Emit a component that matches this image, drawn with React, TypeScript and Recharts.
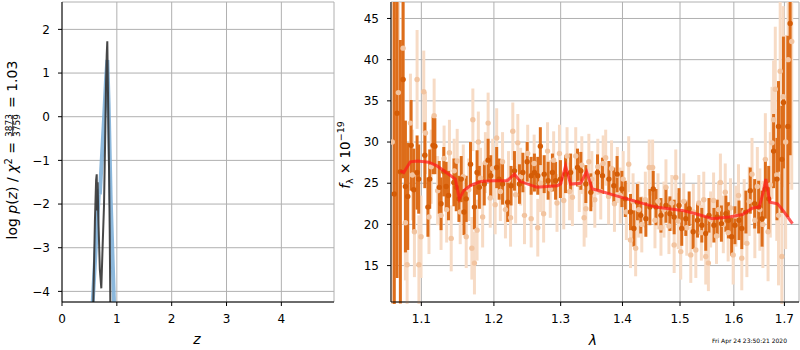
import React from 'react';
import { ComposedChart, Line, Scatter, ErrorBar, XAxis, YAxis, CartesianGrid } from 'recharts';

const FONT = "'DejaVu Sans', sans-serif";

// ---------- left panel: log p(z) ----------
const zBlue = [0.545, 0.56, 0.62, 0.675, 0.69, 0.76, 0.805, 0.827, 0.85, 0.888, 0.948, 0.96];
const logpBlue = [-6, -4.25, -2.9, -1.66, -1.78, -0.2, 0.9, 1.3, 0.3, -1.89, -4.25, -6];
const zDark = [0.555, 0.571, 0.6, 0.622, 0.633, 0.641, 0.65, 0.66, 0.69, 0.717, 0.74, 0.766, 0.79, 0.802, 0.815, 0.826, 0.84, 0.857, 0.87, 0.881, 0.895];
const logpDark = [-6, -4.25, -2.4, -1.45, -1.32, -2.15, -1.5, -2.2, -3.5, -3.93, -3.0, -2.04, -0.3, 0.69, 1.4, 1.73, 0.4, -1.13, -2.6, -4.25, -6];
const zTicks = [0, 1, 2, 3, 4];
const logpTicks = [-4, -3, -2, -1, 0, 1, 2];

// ---------- right panel: spectrum ----------
const lightLam = [1.0623, 1.0701, 1.0762, 1.0792, 1.0814, 1.0857, 1.0883, 1.0909, 1.0944, 1.0968, 1.0996, 1.1032, 1.1055, 1.1101, 1.1131, 1.117, 1.1217, 1.1263, 1.1304, 1.1339, 1.1377, 1.1401, 1.1442, 1.1483, 1.1525, 1.1567, 1.1608, 1.1643, 1.1687, 1.1701, 1.1723, 1.176, 1.1778, 1.1809, 1.1839, 1.1878, 1.1917, 1.1947, 1.1982, 1.2018, 1.204, 1.2093, 1.2125, 1.2167, 1.2212, 1.2242, 1.2275, 1.2317, 1.2349, 1.2391, 1.2448, 1.2496, 1.2548, 1.2593, 1.2648, 1.269, 1.2737, 1.2797, 1.2839, 1.2891, 1.2943, 1.2981, 1.3048, 1.31, 1.314, 1.3184, 1.3237, 1.3293, 1.3334, 1.3371, 1.3398, 1.3447, 1.3495, 1.3543, 1.3592, 1.364, 1.368, 1.3721, 1.3769, 1.3818, 1.3866, 1.3914, 1.3963, 1.4012, 1.4065, 1.4105, 1.4135, 1.4179, 1.4223, 1.4275, 1.4328, 1.4389, 1.4456, 1.4515, 1.4556, 1.4609, 1.4661, 1.4714, 1.4749, 1.4802, 1.4854, 1.4895, 1.4924, 1.4968, 1.5013, 1.5067, 1.5122, 1.5195, 1.5241, 1.5287, 1.5342, 1.5388, 1.5433, 1.547, 1.5519, 1.5561, 1.5616, 1.5671, 1.5708, 1.5744, 1.5799, 1.5836, 1.5891, 1.5936, 1.5987, 1.604, 1.6089, 1.6153, 1.6199, 1.6252, 1.6298, 1.6352, 1.6408, 1.6457, 1.6507, 1.6567, 1.6616, 1.667, 1.6715, 1.6749, 1.6781, 1.6815, 1.6845, 1.688, 1.6914, 1.6948, 1.6974, 1.7025, 1.7076, 1.715];
const lightFlux = [30.0, 36.0, 41.4, 20.2, 15.1, 32.3, 26.0, 19.1, 37.6, 15.1, 18.5, 36.1, 31.1, 20.9, 27.0, 33.2, 24.1, 21.1, 28.0, 21.8, 28.7, 18.3, 26.5, 27.7, 21.5, 25.8, 18.5, 24.2, 17.1, 32.7, 15.3, 19.3, 30.0, 25.6, 20.9, 27.5, 32.3, 23.2, 26.8, 22.4, 30.5, 24.0, 27.6, 21.8, 25.4, 20.8, 31.3, 23.6, 29.9, 25.8, 21.1, 28.6, 20.7, 27.4, 19.6, 25.0, 21.3, 28.9, 24.3, 27.8, 22.6, 28.6, 22.9, 28.3, 24.0, 23.3, 28.3, 25.0, 27.2, 20.8, 21.9, 27.6, 25.5, 23.0, 27.0, 24.0, 27.4, 28.1, 23.4, 26.8, 22.5, 26.0, 23.5, 25.5, 21.5, 27.3, 18.1, 22.8, 17.1, 21.8, 20.0, 23.0, 26.9, 26.9, 20.5, 22.8, 19.6, 21.8, 24.5, 19.8, 22.6, 17.5, 25.7, 20.4, 16.7, 22.8, 19.6, 16.3, 21.5, 16.9, 22.6, 19.0, 23.0, 16.1, 15.3, 20.6, 22.9, 18.6, 21.8, 25.1, 20.0, 23.9, 19.0, 22.0, 16.3, 21.0, 23.5, 15.9, 21.5, 17.7, 22.8, 26.1, 20.5, 24.6, 21.8, 20.0, 27.9, 19.1, 24.8, 29.9, 32.7, 36.4, 26.0, 21.1, 38.6, 16.1, 35.5, 30.0, 40.0, 42.2];
const lightErr = [22, 16, 9, 7, 7, 6, 5.5, 5.5, 6, 6, 5, 5, 5, 4.5, 4.5, 4.5, 4.2, 4.2, 4, 4, 4, 4, 3.9, 3.9, 3.9, 3.9, 3.8, 3.8, 3.8, 3.8, 3.8, 3.7, 3.7, 3.7, 3.7, 3.7, 3.7, 3.6, 3.6, 3.6, 3.6, 3.6, 3.6, 3.5, 3.5, 3.5, 3.5, 3.5, 3.5, 3.5, 3.5, 3.5, 3.5, 3.5, 3.5, 3.5, 3.5, 3.5, 3.5, 3.5, 3.5, 3.5, 3.5, 3.5, 3.5, 3.5, 3.5, 3.5, 3.5, 3.5, 3.5, 3.4, 3.4, 3.4, 3.4, 3.4, 3.4, 3.4, 3.4, 3.4, 3.4, 3.4, 3.4, 3.4, 3.4, 3.4, 3.4, 3.4, 3.4, 3.4, 3.4, 3.4, 3.4, 3.4, 3.4, 3.4, 3.4, 3.4, 3.4, 3.4, 3.4, 3.4, 3.4, 3.4, 3.4, 3.4, 3.4, 3.4, 3.4, 3.4, 3.4, 3.4, 3.4, 3.4, 3.4, 3.4, 3.4, 3.4, 3.4, 3.5, 3.5, 3.5, 3.5, 3.6, 3.6, 3.7, 3.8, 3.9, 4.0, 4.1, 4.2, 4.4, 4.6, 4.8, 5.0, 5.3, 5.6, 6.0, 6.4, 6.8, 7.2, 7.6, 8.0, 8.5, 9, 10, 11, 13, 15, 18];

const darkLam = [1.0649, 1.0684, 1.0727, 1.0762, 1.0792, 1.0822, 1.0866, 1.09, 1.0944, 1.0965, 1.1046, 1.1087, 1.1111, 1.1156, 1.118, 1.1239, 1.1263, 1.13, 1.1332, 1.1364, 1.1438, 1.147, 1.1507, 1.1539, 1.1577, 1.1608, 1.1668, 1.1723, 1.176, 1.1792, 1.1862, 1.1917, 1.1954, 1.204, 1.2075, 1.2125, 1.22, 1.2249, 1.2299, 1.2373, 1.2424, 1.2488, 1.2548, 1.2597, 1.2648, 1.2687, 1.2746, 1.2806, 1.2872, 1.2921, 1.2996, 1.3076, 1.3156, 1.3265, 1.3318, 1.3398, 1.3479, 1.3587, 1.3668, 1.3774, 1.3855, 1.391, 1.399, 1.4047, 1.4135, 1.4193, 1.4252, 1.431, 1.4398, 1.4468, 1.4526, 1.4574, 1.4661, 1.4749, 1.4819, 1.4895, 1.4982, 1.5031, 1.5104, 1.5165, 1.5238, 1.5318, 1.5397, 1.547, 1.553, 1.5622, 1.5684, 1.5763, 1.5848, 1.5896, 1.5958, 1.602, 1.6099, 1.6153, 1.6233, 1.6318, 1.6404, 1.6483, 1.6551, 1.6616, 1.6682, 1.6781, 1.6849, 1.688, 1.6948, 1.698, 1.707, 1.7117];
const darkFlux = [23.7, 33.5, 26.4, 37.6, 24.6, 23.4, 29.6, 24.2, 26.3, 25.5, 28.4, 22.1, 25.5, 29.6, 29.5, 24.5, 22.5, 26.4, 24.6, 23.5, 25.1, 24.5, 23.1, 25.5, 21.5, 23.1, 27.3, 22.1, 26.3, 24.5, 24.9, 27.8, 25.9, 26.9, 25.5, 24.9, 22.7, 24.7, 26.5, 24.9, 26.3, 27.6, 25.9, 26.3, 25.9, 29.5, 26.1, 25.3, 26.3, 25.3, 25.5, 26.1, 26.3, 26.9, 26.5, 24.9, 23.9, 26.3, 25.9, 25.5, 24.7, 26.1, 24.3, 23.1, 21.5, 19.5, 22.7, 21.1, 20.7, 22.1, 24.3, 22.1, 21.1, 22.3, 21.3, 20.9, 22.3, 19.5, 20.7, 21.9, 19.1, 20.5, 19.9, 18.9, 21.1, 19.9, 20.9, 20.1, 21.3, 20.5, 18.5, 19.9, 20.5, 19.5, 21.5, 24.1, 22.5, 22.1, 20.7, 24.3, 23.1, 28.9, 25.5, 31.9, 27.9, 34.8, 31.9, 44.4];
const darkErr = [25, 20, 16, 12, 8, 6.5, 5.5, 5, 4.5, 4.2, 4, 3.6, 3.6, 3.5, 3.4, 3.2, 3.2, 3, 3, 3, 2.9, 2.9, 2.8, 2.8, 2.8, 2.8, 2.7, 2.7, 2.7, 2.6, 2.6, 2.6, 2.5, 2.5, 2.5, 2.5, 2.4, 2.4, 2.4, 2.4, 2.4, 2.4, 2.3, 2.3, 2.3, 2.3, 2.3, 2.3, 2.3, 2.3, 2.3, 2.3, 2.3, 2.3, 2.3, 2.3, 2.3, 2.2, 2.2, 2.2, 2.2, 2.2, 2.2, 2.2, 2.2, 2.2, 2.2, 2.2, 2.2, 2.2, 2.2, 2.2, 2.1, 2.1, 2.1, 2.1, 2.1, 2.1, 2.1, 2.1, 2.1, 2.1, 2.1, 2.1, 2.1, 2.1, 2.1, 2.2, 2.2, 2.2, 2.3, 2.3, 2.4, 2.5, 2.6, 2.8, 3, 3.2, 3.4, 3.6, 4, 4.5, 5, 5.5, 6.5, 8, 11, 16];

const modelLam = [1.0726, 1.077, 1.0856, 1.095, 1.1097, 1.1209, 1.1366, 1.1458, 1.1513, 1.1573, 1.1666, 1.1807, 1.2, 1.2192, 1.2299, 1.2388, 1.2639, 1.2947, 1.3, 1.3076, 1.3155, 1.3314, 1.341, 1.3502, 1.3557, 1.3886, 1.4568, 1.5042, 1.5285, 1.5595, 1.5909, 1.6167, 1.6363, 1.6493, 1.6572, 1.6626, 1.6706, 1.6862, 1.6997, 1.7165];
const modelFlux = [26.5, 26.3, 27.6, 27.7, 27.55, 27.1, 26.1, 25.5, 23.1, 24.1, 24.7, 25.2, 25.3, 25.3, 26.1, 25.2, 24.5, 24.7, 24.9, 27.1, 24.9, 25.0, 26.4, 24.3, 24.2, 23.5, 22.1, 21.7, 21.3, 20.7, 20.9, 21.2, 22.0, 22.1, 23.9, 25.5, 22.7, 22.5, 21.5, 20.1];

const lamTicks = [1.1, 1.2, 1.3, 1.4, 1.5, 1.6, 1.7];
const fluxTicks = [15, 20, 25, 30, 35, 40, 45];

const objName = 'j161312p5650';
const idText = 'ID=543';
const zText = 'z=0.8315';
const chiNum = '3873';
const chiDen = '3759';
const chiVal = '1.03';
const dateText = 'Fri Apr 24 23:50:21 2020';

// ---------- derived tables ----------
const blueData = zBlue.map((z, i) => ({ z, logp: logpBlue[i] }));
const darkLineData = zDark.map((z, i) => ({ z, logp: logpDark[i] }));
const lightData = lightLam.map((lam, i) => ({ lam, flux: lightFlux[i], err: lightErr[i] }));
const darkData = darkLam.map((lam, i) => ({ lam, flux: darkFlux[i], err: darkErr[i] }));
const modelData = modelLam.map((lam, i) => ({ lam, flux: modelFlux[i] }));

const fmt = (v: number) => (v < 0 ? '\u2212' + Math.abs(v) : String(v));
const tickStyle = { fill: '#000', fontSize: 12, fontFamily: FONT };
const GRID = '#b0b0b0';
const CLIP = 'url(#specPlotClip)';

const LeftAnnot = () => (
  <g fontFamily={FONT} fontSize={12} fill="#000">
    <text x={319.5} y={24} textAnchor="end">{objName}</text>
    <text x={243} y={38.5} textAnchor="end">{idText}</text>
    <text x={319.5} y={38.5} textAnchor="end">{zText}</text>
  </g>
);

const LeftXLabel = () => (
  <text x={197} y={344} textAnchor="middle" fontFamily={FONT} fontSize={14} fontStyle="italic" fill="#000">z</text>
);

const LeftYLabel = () => (
  <g transform="translate(17,153) rotate(-90)" fontFamily={FONT} fill="#000">
    <text x={11} y={0} textAnchor="end" fontSize={14}>
      log <tspan fontStyle="italic">p</tspan>(<tspan fontStyle="italic">z</tspan>) / <tspan fontStyle="italic">χ</tspan>
      <tspan fontSize={10} dy={-5}>2</tspan>
      <tspan dy={5}> =</tspan>
    </text>
    <text x={27.5} y={-5.5} textAnchor="middle" fontSize={9}>{chiNum}</text>
    <line x1={17} x2={38} y1={-4.3} y2={-4.3} stroke="#000" strokeWidth={0.8} />
    <text x={27.5} y={3} textAnchor="middle" fontSize={9}>{chiDen}</text>
    <text x={45} y={0} textAnchor="start" fontSize={14}>= {chiVal}</text>
  </g>
);

const RightXLabel = () => (
  <g fontFamily={FONT} fill="#000">
    <text x={263} y={345} textAnchor="middle" fontSize={14} fontStyle="italic">λ</text>
    <text x={457} y={343} textAnchor="end" fontSize={6}>{dateText}</text>
  </g>
);

const RightYLabel = () => (
  <text transform="translate(20,155) rotate(-90)" textAnchor="middle" fontFamily={FONT} fontSize={13.5} fill="#000">
    <tspan fontStyle="italic">f</tspan>
    <tspan fontSize={9.5} dy={3}>λ</tspan>
    <tspan dy={-3}> × 10</tspan>
    <tspan fontSize={9.5} dy={-6}>−19</tspan>
  </text>
);

const lightDot = (p: any) => <circle cx={p.cx} cy={p.cy} r={2.7} fill="#f2c4a0" clipPath={CLIP} />;
const darkDot = (p: any) => <circle cx={p.cx} cy={p.cy} r={2.7} fill="#d45c06" clipPath={CLIP} />;

function LeftPanel() {
  return (
    <ComposedChart width={340} height={350} margin={{ top: 2, right: 6, bottom: 0, left: 0 }}>
      <CartesianGrid stroke={GRID} strokeWidth={1} />
      <XAxis
        type="number"
        dataKey="z"
        domain={[0, 4.96]}
        ticks={zTicks}
        allowDataOverflow
        height={48}
        tickSize={4}
        tickMargin={8}
        tickFormatter={fmt}
        stroke="#000"
        tick={tickStyle}
        label={<LeftXLabel />}
      />
      <YAxis
        type="number"
        dataKey="logp"
        domain={[-4.243, 2.627]}
        ticks={logpTicks}
        allowDataOverflow
        width={62}
        tickSize={4}
        tickMargin={8}
        tickFormatter={fmt}
        stroke="#000"
        tick={tickStyle}
        label={<LeftYLabel />}
      />
      <XAxis xAxisId="top" orientation="top" type="number" domain={[0, 1]} height={0} tick={false} tickLine={false} stroke="#000" label={<LeftAnnot />} />
      <YAxis yAxisId="right" orientation="right" type="number" domain={[0, 1]} width={0} tick={false} tickLine={false} stroke="#000" />
      <Line data={blueData} dataKey="logp" type="linear" stroke="#7fb0d8" strokeOpacity={0.9} strokeWidth={4} dot={false} isAnimationActive={false} />
      <Line data={darkLineData} dataKey="logp" type="linear" stroke="#333333" strokeOpacity={0.9} strokeWidth={2} dot={false} isAnimationActive={false} />
    </ComposedChart>
  );
}

function RightPanel() {
  return (
    <ComposedChart width={470} height={350} margin={{ top: 2, right: 1, bottom: 0, left: 0 }}>
      <defs>
        <clipPath id="specPlotClip">
          <rect x={61} y={2} width={408} height={302} />
        </clipPath>
      </defs>
      <CartesianGrid stroke={GRID} strokeWidth={1} />
      <XAxis
        type="number"
        dataKey="lam"
        scale="log"
        domain={[1.0607, 1.73]}
        ticks={lamTicks}
        allowDataOverflow
        height={48}
        tickSize={4}
        tickMargin={8}
        stroke="#000"
        tick={tickStyle}
        label={<RightXLabel />}
      />
      <YAxis
        type="number"
        dataKey="flux"
        domain={[10.58, 47]}
        ticks={fluxTicks}
        allowDataOverflow
        width={61}
        tickSize={4}
        tickMargin={8}
        stroke="#000"
        tick={tickStyle}
        label={<RightYLabel />}
      />
      <XAxis xAxisId="top" orientation="top" type="number" domain={[0, 1]} height={0} tick={false} tickLine={false} stroke="#000" />
      <YAxis yAxisId="right" orientation="right" type="number" domain={[0, 1]} width={0} tick={false} tickLine={false} stroke="#000" />
      <Scatter data={lightData} dataKey="flux" shape={lightDot} isAnimationActive={false}>
        <ErrorBar dataKey="err" direction="y" width={0} stroke="#f7dbc5" strokeWidth={3} clipPath={CLIP} />
      </Scatter>
      <Scatter data={darkData} dataKey="flux" shape={darkDot} isAnimationActive={false}>
        <ErrorBar dataKey="err" direction="y" width={0} stroke="#dd6d1a" strokeWidth={3} clipPath={CLIP} />
      </Scatter>
      <Line data={modelData} dataKey="flux" type="linear" stroke="#ff1a1a" strokeOpacity={0.72} strokeWidth={3} dot={false} isAnimationActive={false} zIndex={2500} />
    </ComposedChart>
  );
}

export default function App() {
  return (
    <div style={{ position: 'absolute', left: 0, top: 0, width: 800, height: 350, background: '#fff', fontFamily: FONT }}>
      <div style={{ position: 'absolute', left: 0, top: 0 }}>
        <LeftPanel />
      </div>
      <div style={{ position: 'absolute', left: 330, top: 0 }}>
        <RightPanel />
      </div>
    </div>
  );
}
